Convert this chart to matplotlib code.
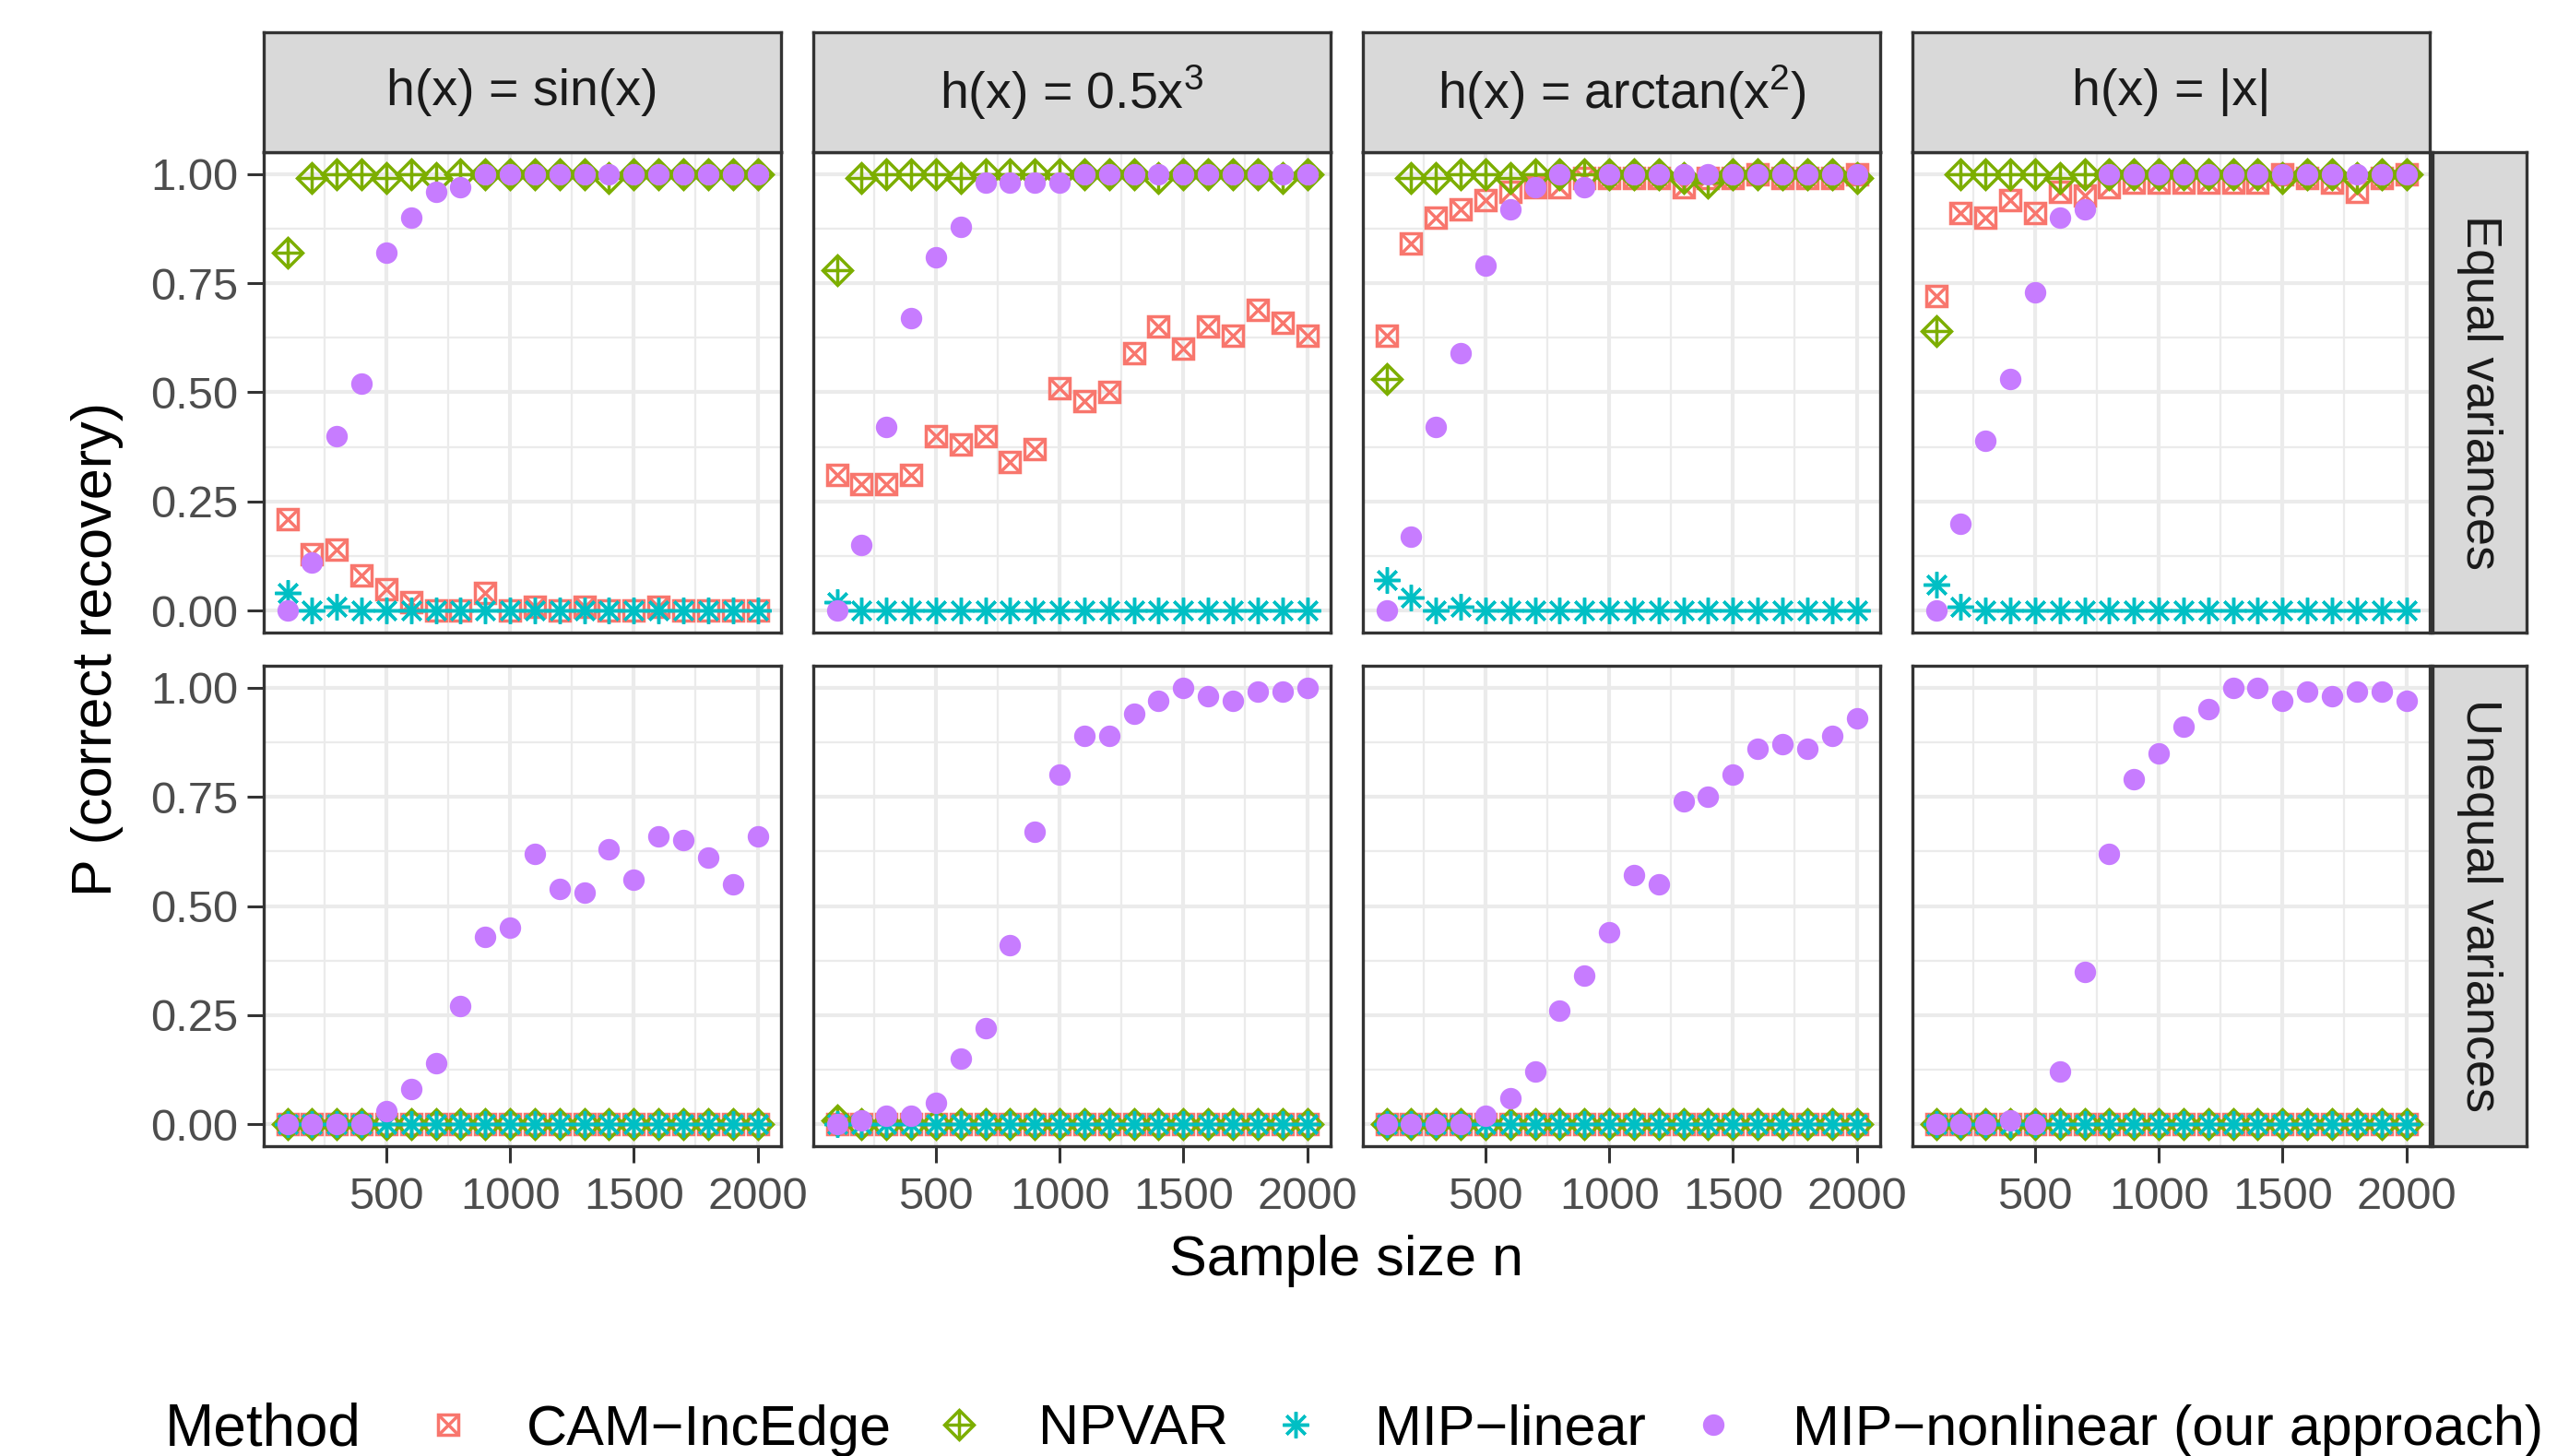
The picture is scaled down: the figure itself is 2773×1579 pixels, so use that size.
import matplotlib
matplotlib.use("Agg")
import matplotlib.pyplot as plt

plt.rcParams['font.family'] = ['Liberation Sans', 'DejaVu Sans']
plt.rcParams['mathtext.default'] = 'regular'

# ---- data ----
sample_sizes = [100, 200, 300, 400, 500, 600, 700, 800, 900, 1000,
                1100, 1200, 1300, 1400, 1500, 1600, 1700, 1800, 1900, 2000]
functions = ["h(x) = sin(x)", "h(x) = 0.5x$^{3}$", "h(x) = arctan(x$^{2}$)", "h(x) = |x|"]
variance_settings = ["Equal variances", "Unequal variances"]
methods = ["CAM\u2212IncEdge", "NPVAR", "MIP\u2212linear", "MIP\u2212nonlinear (our approach)"]
x_ticks = [500, 1000, 1500, 2000]
y_ticks = [0.0, 0.25, 0.5, 0.75, 1.0]
y_tick_labels = ["0.00", "0.25", "0.50", "0.75", "1.00"]

# equal variances
cam_eq_sin = [0.21, 0.13, 0.14, 0.08, 0.05, 0.02, 0.00, 0.00, 0.04, 0.00, 0.01, 0.00, 0.01, 0.00, 0.00, 0.01, 0.00, 0.00, 0.00, 0.00]
npvar_eq_sin = [0.82, 0.99, 1.00, 1.00, 0.99, 1.00, 0.99, 1.00, 1.00, 1.00, 1.00, 1.00, 1.00, 0.99, 1.00, 1.00, 1.00, 1.00, 1.00, 1.00]
lin_eq_sin = [0.04, 0.00, 0.01, 0.00, 0.00, 0.00, 0.00, 0.00, 0.00, 0.00, 0.00, 0.00, 0.00, 0.00, 0.00, 0.00, 0.00, 0.00, 0.00, 0.00]
nonlin_eq_sin = [0.00, 0.11, 0.40, 0.52, 0.82, 0.90, 0.96, 0.97, 1.00, 1.00, 1.00, 1.00, 1.00, 1.00, 1.00, 1.00, 1.00, 1.00, 1.00, 1.00]

cam_eq_cube = [0.31, 0.29, 0.29, 0.31, 0.40, 0.38, 0.40, 0.34, 0.37, 0.51, 0.48, 0.50, 0.59, 0.65, 0.60, 0.65, 0.63, 0.69, 0.66, 0.63]
npvar_eq_cube = [0.78, 0.99, 1.00, 1.00, 1.00, 0.99, 1.00, 1.00, 1.00, 1.00, 1.00, 1.00, 1.00, 0.99, 1.00, 1.00, 1.00, 1.00, 0.99, 1.00]
lin_eq_cube = [0.02, 0.00, 0.00, 0.00, 0.00, 0.00, 0.00, 0.00, 0.00, 0.00, 0.00, 0.00, 0.00, 0.00, 0.00, 0.00, 0.00, 0.00, 0.00, 0.00]
nonlin_eq_cube = [0.00, 0.15, 0.42, 0.67, 0.81, 0.88, 0.98, 0.98, 0.98, 0.98, 1.00, 1.00, 1.00, 1.00, 1.00, 1.00, 1.00, 1.00, 1.00, 1.00]

cam_eq_atan = [0.63, 0.84, 0.90, 0.92, 0.94, 0.96, 0.97, 0.97, 0.99, 0.99, 0.99, 0.99, 0.97, 0.99, 0.99, 1.00, 0.99, 0.99, 0.99, 1.00]
npvar_eq_atan = [0.53, 0.99, 0.99, 1.00, 1.00, 0.99, 1.00, 1.00, 1.00, 1.00, 1.00, 1.00, 0.99, 0.98, 1.00, 1.00, 1.00, 1.00, 1.00, 0.99]
lin_eq_atan = [0.07, 0.03, 0.00, 0.01, 0.00, 0.00, 0.00, 0.00, 0.00, 0.00, 0.00, 0.00, 0.00, 0.00, 0.00, 0.00, 0.00, 0.00, 0.00, 0.00]
nonlin_eq_atan = [0.00, 0.17, 0.42, 0.59, 0.79, 0.92, 0.97, 1.00, 0.97, 1.00, 1.00, 1.00, 1.00, 1.00, 1.00, 1.00, 1.00, 1.00, 1.00, 1.00]

cam_eq_abs = [0.72, 0.91, 0.90, 0.94, 0.91, 0.96, 0.95, 0.97, 0.98, 0.98, 0.98, 0.98, 0.98, 0.98, 1.00, 0.99, 0.98, 0.96, 0.99, 1.00]
npvar_eq_abs = [0.64, 1.00, 1.00, 1.00, 1.00, 0.99, 1.00, 1.00, 1.00, 1.00, 1.00, 1.00, 1.00, 1.00, 0.99, 1.00, 1.00, 0.99, 1.00, 1.00]
lin_eq_abs = [0.06, 0.01, 0.00, 0.00, 0.00, 0.00, 0.00, 0.00, 0.00, 0.00, 0.00, 0.00, 0.00, 0.00, 0.00, 0.00, 0.00, 0.00, 0.00, 0.00]
nonlin_eq_abs = [0.00, 0.20, 0.39, 0.53, 0.73, 0.90, 0.92, 1.00, 1.00, 1.00, 1.00, 1.00, 1.00, 1.00, 1.00, 1.00, 1.00, 1.00, 1.00, 1.00]

# unequal variances
cam_uneq_sin = [0.00, 0.00, 0.00, 0.00, 0.00, 0.00, 0.00, 0.00, 0.00, 0.00, 0.00, 0.00, 0.00, 0.00, 0.00, 0.00, 0.00, 0.00, 0.00, 0.00]
npvar_uneq_sin = [0.00, 0.00, 0.00, 0.00, 0.00, 0.00, 0.00, 0.00, 0.00, 0.00, 0.00, 0.00, 0.00, 0.00, 0.00, 0.00, 0.00, 0.00, 0.00, 0.00]
lin_uneq_sin = [0.00, 0.00, 0.00, 0.00, 0.00, 0.00, 0.00, 0.00, 0.00, 0.00, 0.00, 0.00, 0.00, 0.00, 0.00, 0.00, 0.00, 0.00, 0.00, 0.00]
nonlin_uneq_sin = [0.00, 0.00, 0.00, 0.00, 0.03, 0.08, 0.14, 0.27, 0.43, 0.45, 0.62, 0.54, 0.53, 0.63, 0.56, 0.66, 0.65, 0.61, 0.55, 0.66]

cam_uneq_cube = [0.00, 0.00, 0.00, 0.00, 0.00, 0.00, 0.00, 0.00, 0.00, 0.00, 0.00, 0.00, 0.00, 0.00, 0.00, 0.00, 0.00, 0.00, 0.00, 0.00]
npvar_uneq_cube = [0.01, 0.00, 0.00, 0.00, 0.00, 0.00, 0.00, 0.00, 0.00, 0.00, 0.00, 0.00, 0.00, 0.00, 0.00, 0.00, 0.00, 0.00, 0.00, 0.00]
lin_uneq_cube = [0.00, 0.00, 0.00, 0.00, 0.00, 0.00, 0.00, 0.00, 0.00, 0.00, 0.00, 0.00, 0.00, 0.00, 0.00, 0.00, 0.00, 0.00, 0.00, 0.00]
nonlin_uneq_cube = [0.00, 0.01, 0.02, 0.02, 0.05, 0.15, 0.22, 0.41, 0.67, 0.80, 0.89, 0.89, 0.94, 0.97, 1.00, 0.98, 0.97, 0.99, 0.99, 1.00]

cam_uneq_atan = [0.00, 0.00, 0.00, 0.00, 0.00, 0.00, 0.00, 0.00, 0.00, 0.00, 0.00, 0.00, 0.00, 0.00, 0.00, 0.00, 0.00, 0.00, 0.00, 0.00]
npvar_uneq_atan = [0.00, 0.00, 0.00, 0.00, 0.00, 0.00, 0.00, 0.00, 0.00, 0.00, 0.00, 0.00, 0.00, 0.00, 0.00, 0.00, 0.00, 0.00, 0.00, 0.00]
lin_uneq_atan = [0.00, 0.00, 0.00, 0.00, 0.00, 0.00, 0.00, 0.00, 0.00, 0.00, 0.00, 0.00, 0.00, 0.00, 0.00, 0.00, 0.00, 0.00, 0.00, 0.00]
nonlin_uneq_atan = [0.00, 0.00, 0.00, 0.00, 0.02, 0.06, 0.12, 0.26, 0.34, 0.44, 0.57, 0.55, 0.74, 0.75, 0.80, 0.86, 0.87, 0.86, 0.89, 0.93]

cam_uneq_abs = [0.00, 0.00, 0.00, 0.00, 0.00, 0.00, 0.00, 0.00, 0.00, 0.00, 0.00, 0.00, 0.00, 0.00, 0.00, 0.00, 0.00, 0.00, 0.00, 0.00]
npvar_uneq_abs = [0.00, 0.00, 0.00, 0.00, 0.00, 0.00, 0.00, 0.00, 0.00, 0.00, 0.00, 0.00, 0.00, 0.00, 0.00, 0.00, 0.00, 0.00, 0.00, 0.00]
lin_uneq_abs = [0.00, 0.00, 0.00, 0.00, 0.00, 0.00, 0.00, 0.00, 0.00, 0.00, 0.00, 0.00, 0.00, 0.00, 0.00, 0.00, 0.00, 0.00, 0.00, 0.00]
nonlin_uneq_abs = [0.00, 0.00, 0.00, 0.01, 0.00, 0.12, 0.35, 0.62, 0.79, 0.85, 0.91, 0.95, 1.00, 1.00, 0.97, 0.99, 0.98, 0.99, 0.99, 0.97]

results = [
    [[cam_eq_sin, npvar_eq_sin, lin_eq_sin, nonlin_eq_sin],
     [cam_eq_cube, npvar_eq_cube, lin_eq_cube, nonlin_eq_cube],
     [cam_eq_atan, npvar_eq_atan, lin_eq_atan, nonlin_eq_atan],
     [cam_eq_abs, npvar_eq_abs, lin_eq_abs, nonlin_eq_abs]],
    [[cam_uneq_sin, npvar_uneq_sin, lin_uneq_sin, nonlin_uneq_sin],
     [cam_uneq_cube, npvar_uneq_cube, lin_uneq_cube, nonlin_uneq_cube],
     [cam_uneq_atan, npvar_uneq_atan, lin_uneq_atan, nonlin_uneq_atan],
     [cam_uneq_abs, npvar_uneq_abs, lin_uneq_abs, nonlin_uneq_abs]],
]

# ---- styling ----
colors = ["#F8766D", "#7CAE00", "#00BFC4", "#C77CFF"]
# each method drawn as one or more overlaid matplotlib markers (ggplot pch 7, 9, 8, 16)
marker_parts = [
    [("s", 8.2, "none"), ("x", 8.2, "none")],
    [("D", 8.1, "none"), ("+", 11.5, "none")],
    [((8, 2, 0), 10.2, "none")],
    [("o", 8.4, "fill")],
]
zorders = [3, 4, 5, 6]
draw_order = [0, 3, 1, 2]

W, H = 2773, 1579
DPI = 200
fig = plt.figure(figsize=(W / DPI, H / DPI), dpi=DPI)

col_left = [286, 882, 1478, 2074]
panel_w = 561
row_top = [165, 722]
panel_h = 521


def rect(x, y, w, h):
    return [x / W, 1 - (y + h) / H, w / W, h / H]


border = "#333333"
legend_handles = []

for r in range(2):
    for c in range(4):
        ax = fig.add_axes(rect(col_left[c], row_top[r], panel_w, panel_h))
        ax.set_axisbelow(True)
        ax.set_xlim(5, 2095)
        ax.set_ylim(-0.05, 1.05)
        ax.set_xticks(x_ticks)
        ax.set_xticks([250, 750, 1250, 1750], minor=True)
        ax.set_yticks(y_ticks)
        ax.set_yticks([0.125, 0.375, 0.625, 0.875], minor=True)
        ax.set_yticklabels(y_tick_labels)
        ax.grid(which="major", color="#EBEBEB", lw=1.5)
        ax.grid(which="minor", color="#EBEBEB", lw=0.8)
        for s in ax.spines.values():
            s.set_color(border)
            s.set_linewidth(1.2)
        ax.tick_params(which="minor", length=0)
        ax.tick_params(which="major", length=6.5, width=1.1, color=border,
                       labelsize=17.6, labelcolor="#4D4D4D")
        ax.tick_params(axis="x", pad=5.5, bottom=(r == 1), labelbottom=(r == 1))
        ax.tick_params(axis="y", pad=3.5, left=(c == 0), labelleft=(c == 0))

        for m in draw_order:
            vals = results[r][c][m]
            parts = []
            for mk, ms, fill in marker_parts[m]:
                if fill == "fill":
                    ln, = ax.plot(sample_sizes, vals, linestyle="none", marker=mk, ms=ms,
                                  mfc=colors[m], mec=colors[m], mew=0, zorder=zorders[m],
                                  clip_on=False)
                else:
                    ln, = ax.plot(sample_sizes, vals, linestyle="none", marker=mk, ms=ms,
                                  mfc="none", mec=colors[m], mew=1.25, zorder=zorders[m],
                                  clip_on=False)
                parts.append(ln)
            if r == 0 and c == 0:
                legend_handles.append((m, tuple(parts)))

        # top strips
        if r == 0:
            sax = fig.add_axes(rect(col_left[c], 35, panel_w, 130))
            sax.set_facecolor("#D9D9D9")
            sax.set_xticks([])
            sax.set_yticks([])
            for s in sax.spines.values():
                s.set_color(border)
                s.set_linewidth(1.2)
            sax.text(0.5, 0.5, functions[c], transform=sax.transAxes, ha="center",
                     va="center", fontsize=20, color="#1A1A1A")
    # right strips
    rax = fig.add_axes(rect(2638, row_top[r], 102, panel_h))
    rax.set_facecolor("#D9D9D9")
    rax.set_xticks([])
    rax.set_yticks([])
    for s in rax.spines.values():
        s.set_color(border)
        s.set_linewidth(1.2)
    rax.text(0.5, 0.5, variance_settings[r], transform=rax.transAxes, ha="center",
             va="center", rotation=-90, fontsize=19.5, color="#1A1A1A")

fig.text(1460 / W, 1 - 1367 / H, "Sample size n", ha="center", va="center", fontsize=22)
fig.text(106 / W, 1 - 704 / H, "P (correct recovery)", ha="center", va="center",
         rotation=90, fontsize=22)

# legend
legend_handles.sort(key=lambda t: t[0])
leg_y = 1 - 1551 / H
fig.text(179 / W, leg_y, "Method", ha="left", va="center", fontsize=23)
fig.legend([h for _, h in legend_handles], methods, ncol=4, loc="center left",
           bbox_to_anchor=(455 / W, leg_y), frameon=False, fontsize=22,
           handlelength=1.0, handletextpad=0.9, columnspacing=0.7,
           borderpad=0, borderaxespad=0)

fig.savefig("out.png", dpi=DPI)
